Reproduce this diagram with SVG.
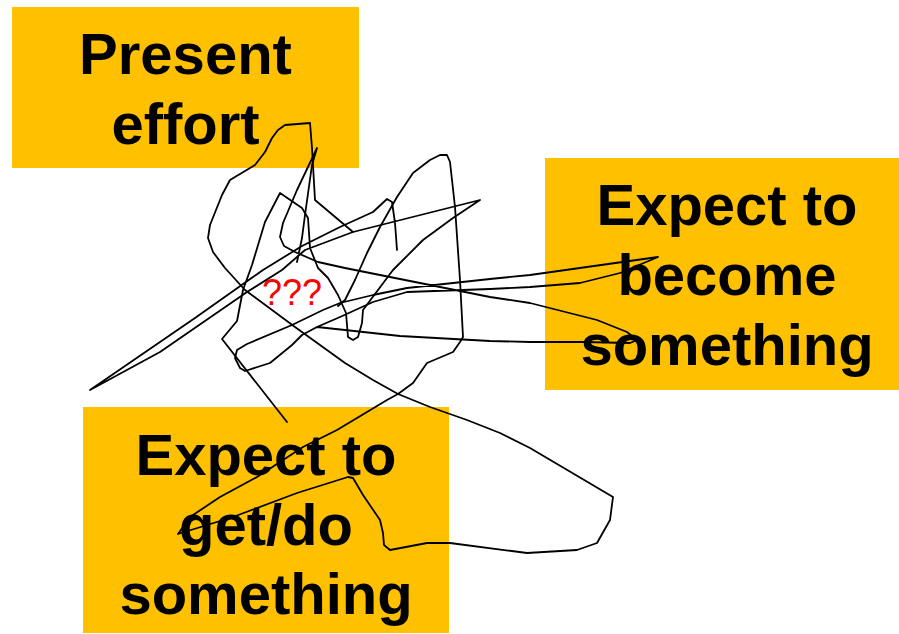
<svg xmlns="http://www.w3.org/2000/svg" width="899" height="634" viewBox="0 0 899 634">
<style>
.box{fill:#FFC000;stroke:none}
.lbl{font-family:"Liberation Sans",Arial,sans-serif;font-weight:bold;font-size:58px;fill:#000;text-anchor:middle}
.q{font-family:"Liberation Sans",Arial,sans-serif;font-size:36px;fill:#FF0000;text-anchor:middle}
.scr{fill:none;stroke:#000;stroke-width:1.8;stroke-linejoin:round;stroke-linecap:round}
</style>
<rect width="899" height="634" fill="#fff"/>
<g id="present-effort">
<rect class="box" x="12" y="7" width="347" height="161"/>
<text class="lbl" x="185.5" y="74">Present</text>
<text class="lbl" x="185.5" y="144">effort</text>
</g>
<g id="expect-become">
<rect class="box" x="545" y="158" width="354" height="232"/>
<text class="lbl" x="727" y="225">Expect to</text>
<text class="lbl" x="727" y="295">become</text>
<text class="lbl" x="727" y="365">something</text>
</g>
<g id="expect-get">
<rect class="box" x="83" y="407" width="366" height="226"/>
<text class="lbl" x="266" y="475">Expect to</text>
<text class="lbl" x="266" y="545">get/do</text>
<text class="lbl" x="266" y="614">something</text>
</g>
<g id="question">
<text class="q" x="292" y="305">???</text>
</g>
<g id="connectors">
<path class="scr" d="M353,232 L315,200 L312,148 L310,123 L285,125 L278,130 L272,138 L265,152 L255,165 L230,180 L222,195 L210,225 L208,238 L213,252 L225,268 L245,290 L295,327 L345,363 L373,380 L398,394 L430,407 L467,420 L500,433 L530,448 L613,497 L610,520 L597,543 L577,550 L527,553 L450,543 L427,543 L390,550 L384,545 L383,533 L380,520 L363,495 L353,478 L348,477 L297,493 L233,517 L178,534 L190,517 L220,497 L257,477 L303,447 L337,430 L387,400 L398,394 L413,383 L427,363 L453,352 L460,342 L463,337 L460,280 L455,207 L450,162 L447,155 L440,155 L430,160 L413,173 L397,197 L380,227 L367,253 L355,280 L345,300 L338,306"/>
<path class="scr" d="M397,250 L395,223 L392,202 L387,199 L373,212 L340,227 L302,246 L263,270 L195,318 L90,390 L160,352 L247,292 L282,270 L305,250 L353,232 L480,200 L453,218 L423,240 L393,270 L372,298 L363,310 L362,323 L358,337 L353,340 L348,337 L346,313 L338,295 L328,278 L318,268 L310,248 L308,218 L302,208 L280,193 L265,222 L252,265 L243,290 L237,321 L222,339 L287,422"/>
<path class="scr" d="M297,262 L302,238 L305,215 L312,165 L317,148 L297,190 L283,223 L280,237 L284,246 L295,252 L318,262 L345,268 L390,277 L490,297 L530,303 L597,320 L627,332 L637,340 L630,343 L583,342 L530,342 L490,341 L400,336 L345,330 L317,327 L340,317 L373,302 L407,292 L490,289 L530,287 L580,283 L620,273 L658,257 L530,275 L490,279 L407,288 L373,295 L340,303 L323,310 L292,325 L247,344 L237,350 L235,358 L240,368 L245,371 L270,363 L292,345 L302,335 L317,327"/>
</g>
</svg>
